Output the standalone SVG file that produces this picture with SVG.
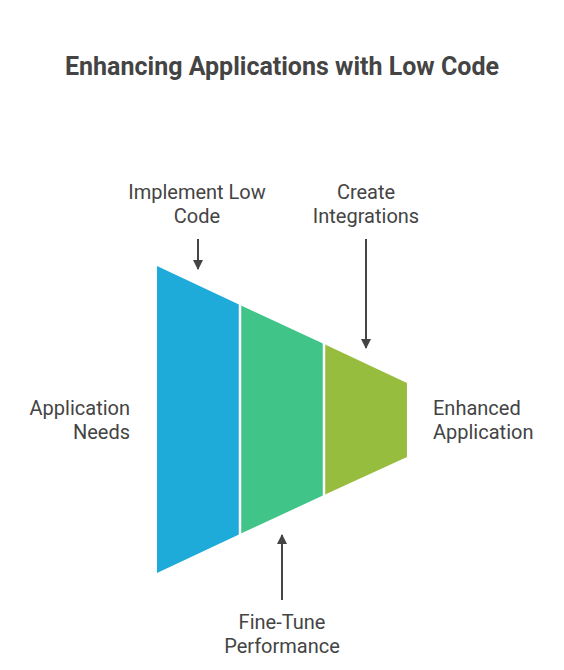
<svg xmlns="http://www.w3.org/2000/svg" width="564" height="670" viewBox="0 0 564 670">
<style>
.t{font-family:Roboto,"Liberation Sans",sans-serif;fill:#444;}
.title{font-size:25px;font-weight:bold;text-anchor:middle;}
.lbl{font-size:20px;}
.c{text-anchor:middle;}
.r{text-anchor:end;}
.sep{stroke:#fff;stroke-width:2.5;}
.ar{stroke:#444;stroke-width:2;fill:none;}
</style>
<defs>
<marker id="ah" viewBox="0 0 10 10" refX="9" refY="5" markerWidth="5" markerHeight="5" markerUnits="strokeWidth" orient="auto">
<path d="M0,0 L10,5 L0,10 z" fill="#444"/>
</marker>
</defs>
<rect width="564" height="670" fill="#fff"/>
<text class="t title" x="282" y="75">Enhancing Applications with Low Code</text>
<g id="funnel">
<g id="seg1"><polygon points="157,266 240,305 240,534 157,573" fill="#1EABDA"/></g>
<g id="seg2"><polygon points="240,305 324,344 324,495 240,534" fill="#40C487"/></g>
<g id="seg3"><polygon points="324,344 407,383 407,457 324,495" fill="#97BD3E"/></g>
<line class="sep" x1="240" y1="303" x2="240" y2="536"/>
<line class="sep" x1="324" y1="342" x2="324" y2="497"/>
</g>
<g id="connectors">
<line class="ar" x1="198" y1="239" x2="198" y2="269" marker-end="url(#ah)"/>
<line class="ar" x1="366" y1="239" x2="366" y2="348" marker-end="url(#ah)"/>
<line class="ar" x1="282" y1="600" x2="282" y2="535" marker-end="url(#ah)"/>
</g>
<g id="label-implement"><text class="t lbl c" x="197" y="199">Implement Low</text><text class="t lbl c" x="197" y="222.5">Code</text></g>
<g id="label-integrations"><text class="t lbl c" x="366" y="199">Create</text><text class="t lbl c" x="366" y="222.5">Integrations</text></g>
<g id="label-needs"><text class="t lbl r" x="130" y="415">Application</text><text class="t lbl r" x="130" y="438.5">Needs</text></g>
<g id="label-enhanced"><text class="t lbl" x="433" y="415">Enhanced</text><text class="t lbl" x="433" y="438.5">Application</text></g>
<g id="label-finetune"><text class="t lbl c" x="282" y="629">Fine-Tune</text><text class="t lbl c" x="282" y="652.5">Performance</text></g>
</svg>
